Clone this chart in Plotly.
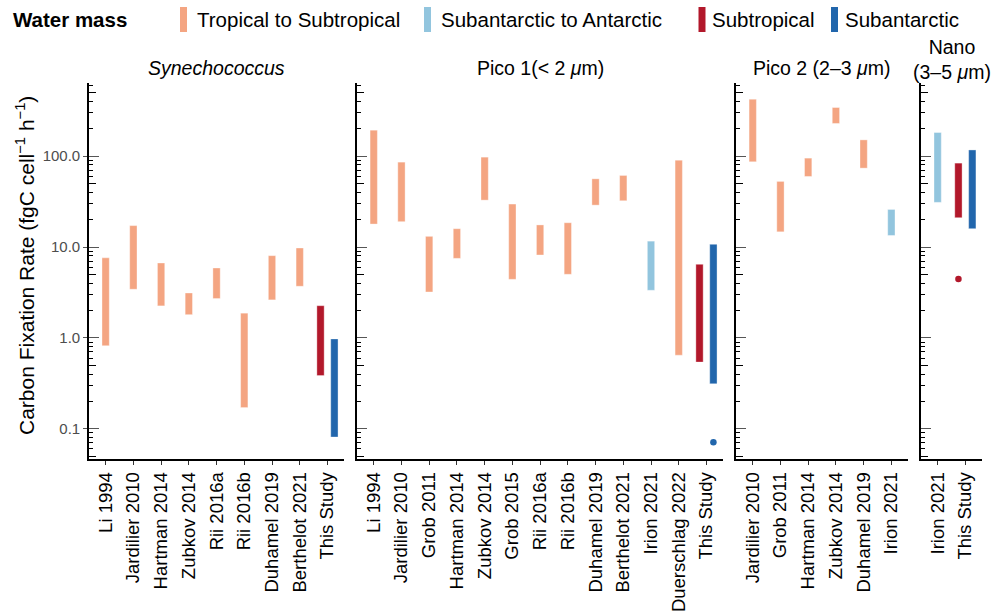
import plotly.graph_objects as go

# ---------------- data ----------------
syn_cats = ["Li 1994", "Jardilier 2010", "Hartman 2014", "Zubkov 2014", "Rii 2016a",
            "Rii 2016b", "Duhamel 2019", "Berthelot 2021", "This Study"]
syn_study = ["Li 1994", "Jardilier 2010", "Hartman 2014", "Zubkov 2014", "Rii 2016a",
             "Rii 2016b", "Duhamel 2019", "Berthelot 2021", "This Study", "This Study"]
syn_mass = ["Tropical to Subtropical"] * 8 + ["Subtropical", "Subantarctic"]
syn_lo = [0.82, 3.43, 2.25, 1.80, 2.71, 0.171, 2.62, 3.70, 0.385, 0.081]
syn_hi = [7.6, 17.2, 6.67, 3.12, 5.88, 1.87, 8.03, 9.75, 2.26, 0.975]

pico1_cats = ["Li 1994", "Jardilier 2010", "Grob 2011", "Hartman 2014", "Zubkov 2014",
              "Grob 2015", "Rii 2016a", "Rii 2016b", "Duhamel 2019", "Berthelot 2021",
              "Irion 2021", "Duerschlag 2022", "This Study"]
pico1_study = pico1_cats[:12] + ["This Study", "This Study"]
pico1_mass = (["Tropical to Subtropical"] * 10 + ["Subantarctic to Antarctic",
              "Tropical to Subtropical", "Subtropical", "Subantarctic"])
pico1_lo = [17.9, 19.0, 3.20, 7.50, 32.8, 4.41, 8.17, 5.01, 28.9, 32.3, 3.34, 0.645, 0.541, 0.312]
pico1_hi = [193, 85.9, 13.1, 15.9, 97.5, 29.7, 17.5, 18.5, 56.3, 61.3, 11.6, 90.4, 6.45, 10.7]
pico1_pt_study = ["This Study"]
pico1_pt_mass = ["Subantarctic"]
pico1_pt_val = [0.0708]

pico2_cats = ["Jardilier 2010", "Grob 2011", "Hartman 2014", "Zubkov 2014", "Duhamel 2019", "Irion 2021"]
pico2_study = pico2_cats[:]
pico2_mass = ["Tropical to Subtropical"] * 5 + ["Subantarctic to Antarctic"]
pico2_lo = [86.7, 14.7, 59.8, 229, 73.8, 13.4]
pico2_hi = [423, 52.7, 95.1, 343, 151, 25.9]

nano_cats = ["Irion 2021", "This Study"]
nano_study = ["Irion 2021", "This Study", "This Study"]
nano_mass = ["Subantarctic to Antarctic", "Subtropical", "Subantarctic"]
nano_lo = [31.0, 21.0, 15.9]
nano_hi = [182, 83.8, 117]
nano_pt_study = ["This Study"]
nano_pt_mass = ["Subtropical"]
nano_pt_val = [4.45]

mass_names = ["Tropical to Subtropical", "Subantarctic to Antarctic", "Subtropical", "Subantarctic"]
mass_colors = ["#F4A582", "#92C5DE", "#B2182B", "#2166AC"]
panel_titles = ["<i>Synechococcus</i>", "Pico 1(< 2 <i>μ</i>m)", "Pico 2 (2–3 <i>μ</i>m)",
                "Nano<br>(3–5 <i>μ</i>m)"]
ytick_vals = [0.1, 1, 10, 100]
ytick_text = ["0.1", "1.0", "10.0", "100.0"]

# ---------------- layout geometry ----------------
W, H = 992, 612
L, R, T, B = 89, 982, 83, 459
GAP = 13
FONT = "Liberation Sans, Arial, Helvetica, sans-serif"
colmap = dict(zip(mass_names, mass_colors))

panels = [
    (syn_cats, syn_study, syn_mass, syn_lo, syn_hi, [], [], []),
    (pico1_cats, pico1_study, pico1_mass, pico1_lo, pico1_hi, pico1_pt_study, pico1_pt_mass, pico1_pt_val),
    (pico2_cats, pico2_study, pico2_mass, pico2_lo, pico2_hi, [], [], []),
    (nano_cats, nano_study, nano_mass, nano_lo, nano_hi, nano_pt_study, nano_pt_mass, nano_pt_val),
]

def pxp(x):
    return (x - L) / (R - L)

def pyp(y):
    return (B - y) / (B - T)

total_units = sum(len(p[0]) + 0.2 for p in panels)
unit = ((R - L) - GAP * (len(panels) - 1)) / total_units
bar_w = 7.3 / unit

fig = go.Figure()
layout = dict(
    template="none",
    width=W, height=H,
    margin=dict(l=L, r=W - R, t=T, b=H - B, pad=0),
    plot_bgcolor="white", paper_bgcolor="white",
    showlegend=False, barmode="overlay",
    font=dict(family=FONT, color="black"),
)

yrange = [-1.333, 2.805]
lo_v, hi_v = 10 ** yrange[0], 10 ** yrange[1]
decades = [0.1, 1, 10, 100]
fives = [v for v in [0.05, 0.5, 5, 50, 500] if lo_v <= v <= hi_v]
others = [round(d * k, 6) for d in [0.01, 0.1, 1, 10, 100] for k in [2, 3, 4, 6, 7, 8, 9]
          if lo_v <= d * k <= hi_v]

annotations = []
shapes = []
x_start = L
for k, (cats, study, mass, lo, hi, pst, pms, pval) in enumerate(panels):
    n = len(cats)
    pw = (n + 0.2) * unit
    x0p, x1p = x_start, x_start + pw
    x_start = x1p + GAP
    ai = k + 1
    xa = "x" if ai == 1 else f"x{ai}"
    ya = "y" if ai == 1 else f"y{ai}"
    ov = 4 + ai
    yov = f"y{ov}"

    def pos_of(s, m):
        masses = [mm for ss, mm in zip(study, mass) if ss == s]
        base = cats.index(s)
        if len(masses) <= 1:
            return base
        i = masses.index(m)
        return base + (i - (len(masses) - 1) / 2) * 0.5

    for mname in mass_names:
        idx = [i for i, m in enumerate(mass) if m == mname]
        if not idx:
            continue
        fig.add_trace(go.Bar(
            x=[pos_of(study[i], mass[i]) for i in idx],
            y=[hi[i] - lo[i] for i in idx],
            base=[lo[i] for i in idx],
            width=bar_w,
            marker=dict(color=colmap[mname], line=dict(width=0.6, color="rgba(255,255,255,0.6)")),
            name=mname, xaxis=xa, yaxis=ya, hoverinfo="skip",
        ))
    for s, m, v in zip(pst, pms, pval):
        fig.add_trace(go.Scatter(
            x=[pos_of(s, m)], y=[v], mode="markers",
            marker=dict(color=colmap[m], size=6.5), xaxis=xa, yaxis=ya, hoverinfo="skip",
        ))
    fig.add_trace(go.Scatter(x=[None], y=[None], mode="markers", xaxis=xa, yaxis=yov,
                             hoverinfo="skip"))

    xkey = "xaxis" if ai == 1 else f"xaxis{ai}"
    ykey = "yaxis" if ai == 1 else f"yaxis{ai}"
    layout[xkey] = dict(
        domain=[pxp(x0p), pxp(x1p)], anchor=ya, type="linear", automargin=False,
        range=[-0.6, n - 0.4], tickmode="array", tickvals=list(range(n)), ticktext=cats,
        tickangle=-90, ticks="outside", ticklen=4, tickwidth=1, tickcolor="#333333",
        showline=True, linecolor="black", linewidth=1.6, showgrid=False, zeroline=False,
        tickfont=dict(size=18.5, color="black", family=FONT),
    )
    ycommon = dict(type="log", range=yrange, showgrid=False, zeroline=False, automargin=False)
    if ai == 1:
        layout[ykey] = dict(
            **ycommon, anchor=xa, domain=[0, 1],
            tickmode="array", tickvals=ytick_vals, ticktext=ytick_text,
            ticks="outside", ticklen=4, tickwidth=1.3, tickcolor="#555555",
            tickfont=dict(size=15, color="#4D4D4D", family=FONT),
            showline=True, linecolor="black", linewidth=1.6,
            minor=dict(tickmode="array", tickvals=others, ticks="inside", ticklen=4,
                       tickwidth=1, tickcolor="black", showgrid=False),
        )
        layout[f"yaxis{ov}"] = dict(
            **ycommon, anchor=xa, overlaying=ya, side="left",
            tickmode="array", tickvals=fives, ticks="inside", ticklen=7, tickwidth=1,
            tickcolor="black", showticklabels=False, showline=False,
            minor=dict(tickmode="array", tickvals=decades, ticks="inside", ticklen=10,
                       tickwidth=1.3, tickcolor="#555555", showgrid=False),
        )
    else:
        layout[ykey] = dict(
            **ycommon, anchor=xa, domain=[0, 1],
            tickmode="array", tickvals=decades, ticks="inside", ticklen=10, tickwidth=1.3,
            tickcolor="#555555", showticklabels=False,
            showline=True, linecolor="black", linewidth=1.6,
            minor=dict(tickmode="array", tickvals=others, ticks="inside", ticklen=4,
                       tickwidth=1, tickcolor="black", showgrid=False),
        )
        layout[f"yaxis{ov}"] = dict(
            **ycommon, anchor=xa, overlaying=ya, side="left",
            tickmode="array", tickvals=fives, ticks="inside", ticklen=7, tickwidth=1,
            tickcolor="black", showticklabels=False, showline=False,
        )

    title_y = 60 if "<br>" in panel_titles[k] else 68
    annotations.append(dict(
        text=panel_titles[k], xref="paper", yref="paper",
        x=pxp((x0p + x1p) / 2), y=pyp(title_y), xanchor="center", yanchor="middle",
        showarrow=False, font=dict(size=19.5, color="black", family=FONT),
    ))

annotations.append(dict(
    text="Carbon Fixation Rate (fgC cell<sup>−1</sup> h<sup>−1</sup>)",
    xref="paper", yref="paper", x=pxp(25), y=pyp(266), xanchor="center", yanchor="middle",
    textangle=-90, showarrow=False, font=dict(size=21, color="black", family=FONT),
))

annotations.append(dict(
    text="<b>Water mass</b>", xref="paper", yref="paper", x=pxp(11), y=pyp(19.5),
    xanchor="left", yanchor="middle", showarrow=False,
    font=dict(size=20.5, color="black", family=FONT),
))
sw_x = [183.5, 427.5, 702, 834.5]
tx_x = [195, 439, 710, 843]
for mname, col, sx, tx in zip(mass_names, mass_colors, sw_x, tx_x):
    shapes.append(dict(type="rect", xref="paper", yref="paper",
                       x0=pxp(sx - 3.5), x1=pxp(sx + 3.5), y0=pyp(32), y1=pyp(7),
                       fillcolor=col, line=dict(width=0)))
    annotations.append(dict(
        text=mname, xref="paper", yref="paper", x=pxp(tx), y=pyp(19.5),
        xanchor="left", yanchor="middle", showarrow=False,
        font=dict(size=20.5, color="black", family=FONT),
    ))

layout["annotations"] = annotations
layout["shapes"] = shapes
fig.update_layout(**layout)
fig.write_html(
    "out.html",
    config={"displayModeBar": False},
    post_script="document.body.style.margin='0px';document.body.style.overflow='hidden';",
)
